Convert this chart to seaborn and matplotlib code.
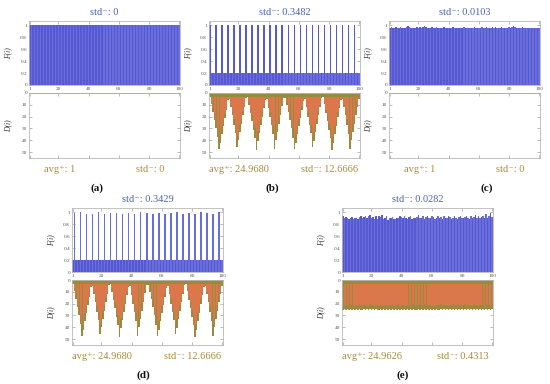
import matplotlib
matplotlib.use("Agg")
import matplotlib.pyplot as plt
import seaborn as sns

# ---- data ----
bar_index = list(range(1, 101))
tick_labels = ["1", "20", "40", "60", "80", "100"]

F_a = [1.0] * 100
D_a = [1.0] * 100

F_b = [1.0, 0.2, 0.2, 0.2, 1.0, 0.2, 0.2, 0.2, 1.0, 0.2, 0.2, 0.2, 1.0, 0.2, 0.2, 0.2, 1.0, 0.2, 0.2, 0.2,
       1.0, 0.2, 0.2, 0.2, 1.0, 0.2, 0.2, 0.2, 1.0, 0.2, 0.2, 0.2, 1.0, 0.2, 0.2, 0.2, 1.0, 0.2, 0.2, 0.2,
       1.0, 0.2, 0.2, 0.2, 1.0, 0.2, 0.2, 0.2, 1.0, 0.2, 0.2, 0.2, 1.0, 0.2, 0.2, 0.2, 1.0, 0.2, 0.2, 0.2,
       1.0, 0.2, 0.2, 0.2, 1.0, 0.2, 0.2, 0.2, 1.0, 0.2, 0.2, 0.2, 1.0, 0.2, 0.2, 0.2, 1.0, 0.2, 0.2, 0.2,
       1.0, 0.2, 0.2, 0.2, 1.0, 0.2, 0.2, 0.2, 1.0, 0.2, 0.2, 0.2, 1.0, 0.2, 0.2, 0.2, 1.0, 0.2, 0.2, 0.2]

# D(i) of (b) and (d): eight V-shaped runs
D_b = [3, 9, 16, 23, 30, 37, 47, 42, 35, 28, 21, 14, 6,
       5, 12, 19, 27, 34, 46, 40, 33, 26, 19, 12, 4,
       3, 10, 17, 24, 31, 38, 48, 41, 34, 27, 20, 13, 6,
       5, 13, 20, 27, 35, 47, 40, 33, 26, 19, 11, 4,
       4, 10, 16, 23, 30, 38, 47, 42, 35, 28, 21, 14, 7,
       5, 12, 20, 27, 34, 46, 41, 33, 26, 19, 12, 4,
       3, 9, 17, 24, 31, 38, 48, 42, 35, 28, 20, 13, 6,
       5, 12, 19, 27, 35, 47, 40, 33, 26, 19, 12, 5]
D_b_inner = [2, 7, 13, 18, 24, 30, 38, 34, 28, 22, 17, 11, 5,
             4, 10, 15, 22, 27, 37, 32, 26, 21, 15, 10, 3,
             2, 8, 14, 19, 25, 30, 38, 33, 27, 22, 16, 10, 5,
             4, 10, 16, 22, 28, 38, 32, 26, 21, 15, 9, 3,
             3, 8, 13, 18, 24, 30, 38, 34, 28, 22, 17, 11, 6,
             4, 10, 16, 22, 27, 37, 33, 26, 21, 15, 10, 3,
             2, 7, 14, 19, 25, 30, 38, 34, 28, 22, 16, 10, 5,
             4, 10, 15, 22, 28, 38, 32, 26, 21, 15, 10, 4]

F_c = [0.96, 0.97, 0.96, 0.95, 0.97, 0.96, 0.96, 0.97, 0.96, 0.95,
       0.96, 0.97, 0.98, 0.97, 0.96, 0.96, 0.95, 0.96, 0.97, 0.96,
       0.97, 0.96, 0.97, 0.98, 0.97, 0.96, 0.95, 0.96, 0.97, 0.96,
       0.96, 0.97, 0.96, 0.95, 0.96, 0.96, 0.97, 0.96, 0.95, 0.96,
       0.95, 0.96, 0.97, 0.96, 0.95, 0.96, 0.96, 0.95, 0.96, 0.97,
       0.96, 0.95, 0.96, 0.96, 0.95, 0.96, 0.97, 0.96, 0.96, 0.95,
       0.96, 0.97, 0.96, 0.96, 0.97, 0.96, 0.95, 0.96, 0.97, 0.96,
       0.97, 0.96, 0.95, 0.96, 0.97, 0.96, 0.96, 0.95, 0.96, 0.97,
       0.96, 0.97, 0.98, 0.97, 0.96, 0.96, 0.95, 0.96, 0.97, 0.96,
       0.95, 0.96, 0.96, 0.95, 0.96, 0.96, 0.95, 0.96, 0.96, 0.95]
D_c = [1.0] * 100

F_d = [0.2, 0.98, 0.2, 0.2, 0.2, 1.0, 0.2, 0.2, 0.2, 0.97, 0.2, 0.2, 0.2, 0.97, 0.2, 0.2, 0.2, 1.0, 0.2, 0.2,
       0.2, 0.97, 0.2, 0.2, 0.2, 0.99, 0.2, 0.2, 0.2, 0.98, 0.2, 0.2, 0.2, 0.97, 0.2, 0.2, 0.2, 0.99, 0.2, 0.2,
       0.2, 0.97, 0.2, 0.2, 0.2, 1.0, 0.2, 0.2, 0.2, 0.98, 0.2, 0.2, 0.2, 0.97, 0.2, 0.2, 0.2, 0.99, 0.2, 0.2,
       0.2, 0.97, 0.2, 0.2, 0.2, 0.98, 0.2, 0.2, 0.2, 1.0, 0.2, 0.2, 0.2, 0.97, 0.2, 0.2, 0.2, 0.98, 0.2, 0.2,
       0.2, 0.97, 0.2, 0.2, 0.2, 1.0, 0.2, 0.2, 0.2, 0.98, 0.2, 0.2, 0.2, 0.97, 0.2, 0.2, 0.2, 1.0, 0.2, 0.2]
D_d = D_b
D_d_inner = D_b_inner

F_e = [0.93, 0.91, 0.92, 0.90, 0.89, 0.91, 0.92, 0.88, 0.90, 0.91,
       0.89, 0.92, 0.93, 0.90, 0.92, 0.94, 0.91, 0.93, 0.95, 0.90,
       0.92, 0.89, 0.93, 0.88, 0.94, 0.92, 0.96, 0.89, 0.90, 0.93,
       0.87, 0.91, 0.90, 0.92, 0.88, 0.89, 0.91, 0.90, 0.93, 0.92,
       0.91, 0.94, 0.90, 0.88, 0.92, 0.93, 0.89, 0.91, 0.90, 0.92,
       0.95, 0.91, 0.90, 0.93, 0.89, 0.92, 0.94, 0.90, 0.91, 0.93,
       0.92, 0.88, 0.91, 0.93, 0.90, 0.92, 0.89, 0.94, 0.91, 0.90,
       0.93, 0.92, 0.89, 0.91, 0.94, 0.90, 0.88, 0.92, 0.93, 0.91,
       0.90, 0.92, 0.94, 0.91, 0.89, 0.93, 0.90, 0.92, 0.95, 0.91,
       0.93, 0.90, 0.92, 0.94, 0.91, 0.97, 0.90, 0.93, 0.98, 0.92]
D_e = [25.2, 24.6, 25.5, 24.9, 25.7, 24.4, 25.1, 24.8, 25.6, 24.7,
       25.3, 24.5, 25.0, 25.8, 24.6, 25.2, 24.9, 25.4, 24.3, 25.1,
       24.8, 25.5, 24.7, 25.0, 25.6, 24.4, 25.3, 24.9, 25.1, 24.6,
       25.7, 24.8, 25.2, 24.5, 25.4, 24.9, 25.0, 24.3, 25.6, 24.8,
       25.1, 24.6, 25.3, 24.9, 25.8, 24.7, 25.0, 24.4, 25.5, 25.1,
       24.6, 25.2, 24.8, 25.4, 24.5, 25.7, 24.9, 25.1, 24.3, 25.3,
       24.8, 25.6, 24.7, 25.0, 25.2, 24.4, 25.5, 24.9, 25.1, 24.6,
       25.4, 24.8, 25.0, 24.5, 25.7, 24.9, 25.2, 24.6, 25.3, 24.8,
       25.1, 24.4, 25.6, 24.9, 25.0, 24.7, 25.4, 24.5, 25.2, 24.8,
       25.5, 24.6, 25.1, 24.9, 25.3, 24.4, 25.0, 24.8, 25.6, 24.7]
D_e_inner = [21.5, 20.8, 21.9, 21.0, 22.1, 20.6, 21.4, 21.1, 22.0, 20.9,
             21.6, 20.7, 21.2, 22.2, 20.9, 21.5, 21.1, 21.8, 20.5, 21.3,
             21.0, 21.9, 20.9, 21.2, 22.0, 20.6, 21.6, 21.1, 21.3, 20.8,
             22.1, 21.0, 21.5, 20.7, 21.8, 21.1, 21.2, 20.5, 22.0, 21.0,
             21.3, 20.8, 21.6, 21.1, 22.2, 20.9, 21.2, 20.6, 21.9, 21.3,
             20.8, 21.5, 21.0, 21.8, 20.7, 22.1, 21.1, 21.3, 20.5, 21.6,
             21.0, 22.0, 20.9, 21.2, 21.5, 20.6, 21.9, 21.1, 21.3, 20.8,
             21.8, 21.0, 21.2, 20.7, 22.1, 21.1, 21.5, 20.8, 21.6, 21.0,
             21.3, 20.6, 22.0, 21.1, 21.2, 20.9, 21.8, 20.7, 21.5, 21.0,
             21.9, 20.8, 21.3, 21.1, 21.6, 20.6, 21.2, 21.0, 22.0, 20.9]

# ---- style ----
BLUE_PAL = ["#5659d2", "#6a6edb"] * 50
OLIVE = "#9a8a3e"
ORANGE = "#da774b"
TITLE_C = "#4d60b8"
NOTE_C = "#a88a3c"
FRAME_C = "#b8b8b8"
SERIF = ["Liberation Serif", "DejaVu Serif"]
CAP = 3

sns.set_theme(style="white")
plt.rcParams["font.family"] = SERIF

W, H = 550, 384
fig = plt.figure(figsize=(W / 100, H / 100), dpi=100)


def frac(left, top, width, height):
    return [left / W, 1 - (top + height) / H, width / W, height / H]


def style_axes(ax):
    for s in ax.spines.values():
        s.set_color(FRAME_C)
        s.set_linewidth(0.6)
    ax.tick_params(direction="in", length=2, width=0.4, color="#888888",
                   labelsize=3.8, labelcolor="#555555", pad=1.5,
                   top=True, right=True, bottom=True, left=True)
    ax.set_xlim(-0.5, 99.5)


def panel(left, top, F, D, D_inner, title, avg_txt, std_txt, letter, letter_xy):
    ax_f = fig.add_axes(frac(left, top, 151, 64))
    sns.barplot(x=bar_index, y=F, hue=bar_index, palette=BLUE_PAL, legend=False,
                width=1.0, saturation=1, linewidth=0, errorbar=None, ax=ax_f)
    style_axes(ax_f)
    ax_f.set_ylim(0, 1.07)
    ax_f.set_yticks([0, 0.2, 0.4, 0.6, 0.8, 1.0])
    ax_f.set_yticklabels(["0", "0.2", "0.4", "0.6", "0.8", "1"])
    ax_f.set_xticks([0, 19, 39, 59, 79, 99])
    ax_f.set_xticklabels(tick_labels)
    ax_f.set_xlabel("")
    ax_f.set_ylabel("F(i)", fontsize=5.5, color="#333333", fontstyle="italic")
    ax_f.yaxis.set_label_coords(-0.11, 0.5)
    ax_f.set_title(title, fontsize=7.5, color=TITLE_C, pad=4)

    ax_d = fig.add_axes(frac(left, top + 72, 151, 65))
    sns.barplot(x=bar_index, y=D, color=OLIVE, width=1.0, saturation=1,
                linewidth=0, errorbar=None, ax=ax_d)
    if D_inner is not None:
        sns.barplot(x=bar_index, y=D_inner, color=ORANGE, width=0.9, saturation=1,
                    linewidth=0, errorbar=None, ax=ax_d)
        sns.barplot(x=bar_index, y=[CAP] * 100, color=OLIVE, width=1.0, saturation=1,
                    linewidth=0, errorbar=None, ax=ax_d)
    style_axes(ax_d)
    ax_d.set_ylim(55, 0)
    ax_d.set_yticks([0, 10, 20, 30, 40, 50])
    ax_d.set_xticks([0, 19, 39, 59, 79, 99])
    ax_d.set_xticklabels([])
    ax_d.set_xlabel("")
    ax_d.set_ylabel("D(i)", fontsize=5.5, color="#333333", fontstyle="italic")
    ax_d.yaxis.set_label_coords(-0.11, 0.5)

    ax_d.text(0.2, -0.17, avg_txt, transform=ax_d.transAxes, ha="center", va="center",
              fontsize=7.5, color=NOTE_C)
    ax_d.text(0.8, -0.17, std_txt, transform=ax_d.transAxes, ha="center", va="center",
              fontsize=7.5, color=NOTE_C)
    fig.text(letter_xy[0] / W, 1 - letter_xy[1] / H, letter, ha="center", va="center",
             fontsize=8, fontweight="bold", color="#111111")


panel(29, 21, F_a, D_a, None, "std\u207b: 0", "avg\u207a: 1", "std\u207b: 0", "(a)", (97, 188))
panel(209, 21, F_b, D_b, D_b_inner, "std\u207b: 0.3482", "avg\u207a: 24.9680",
      "std\u207b: 12.6666", "(b)", (272, 188))
panel(389, 21, F_c, D_c, None, "std\u207b: 0.0103", "avg\u207a: 1", "std\u207b: 0", "(c)", (487, 188))
panel(72, 208, F_d, D_d, D_d_inner, "std\u207b: 0.3429", "avg\u207a: 24.9680",
      "std\u207b: 12.6666", "(d)", (143, 375))
panel(342, 208, F_e, D_e, D_e_inner, "std\u207b: 0.0282", "avg\u207a: 24.9626",
      "std\u207b: 0.4313", "(e)", (403, 375))

fig.savefig("out.png", dpi=100)
